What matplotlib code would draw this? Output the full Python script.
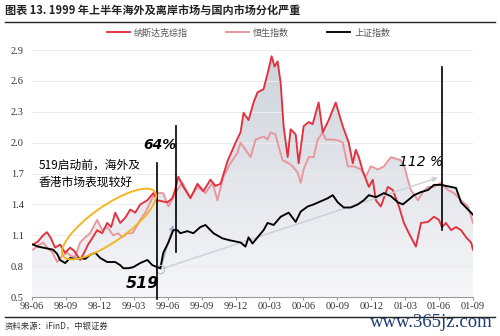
import numpy as np
import matplotlib.pyplot as plt
from matplotlib.patches import Ellipse, Polygon
from matplotlib.colors import LinearSegmentedColormap

plt.rcParams['font.family'] = ['Noto Sans CJK SC', 'DejaVu Sans']

# time axis: months counted from 1998-06
nasdaq_t = [0.09, 0.53, 0.98, 1.33, 1.68, 2.04, 2.48, 2.93, 3.37, 3.72, 4.26, 4.61, 4.96, 5.32,
            5.76, 6.21, 6.65, 7.00, 7.36, 7.80, 8.24, 8.69, 9.13, 9.57, 10.20, 10.73, 11.08,
            11.52, 11.97, 12.41, 12.68, 12.94, 13.39, 14.01, 14.63, 15.16, 15.78, 16.22, 16.67,
            17.29, 18.00, 18.44, 18.71, 19.15, 19.59, 19.95, 20.48, 20.92, 21.19, 21.45, 21.72,
            21.99, 22.25, 22.61, 22.87, 23.32, 23.58, 24.02, 24.47, 24.82, 25.35, 25.71, 26.24,
            26.86, 27.48, 28.01, 28.37, 28.63, 28.90, 29.26, 29.79, 30.14, 30.41, 30.85, 31.47,
            31.91, 32.45, 32.89, 33.33, 33.95, 34.40, 35.02, 35.55, 35.99, 36.26, 36.61, 37.06,
            37.50, 37.94, 38.39, 38.83, 39.0]
nasdaq_v = [1.01, 1.04, 1.10, 1.13, 1.07, 0.98, 1.01, 0.93, 0.98, 0.95, 0.86, 0.93, 1.01, 1.07,
            1.15, 1.12, 1.22, 1.18, 1.32, 1.22, 1.27, 1.35, 1.32, 1.40, 1.44, 1.51, 1.44,
            1.43, 1.42, 1.46, 1.55, 1.67, 1.57, 1.46, 1.60, 1.53, 1.64, 1.58, 1.60,
            1.82, 2.00, 2.10, 2.29, 2.22, 2.39, 2.49, 2.52, 2.71, 2.84, 2.74, 2.79,
            2.58, 2.16, 1.86, 2.13, 2.08, 1.80, 2.16, 2.20, 2.18, 2.39, 2.10, 2.22,
            2.39, 2.16, 2.00, 1.80, 1.93, 1.86, 1.72, 1.57, 1.64, 1.44, 1.38, 1.57,
            1.54, 1.38, 1.22, 1.12, 0.99, 1.22, 1.23, 1.28, 1.25, 1.18, 1.22, 1.15,
            1.18, 1.15, 1.08, 1.03, 0.96]

hsi_t = [0.09, 0.53, 0.98, 1.42, 1.77, 2.22, 2.66, 3.10, 3.46, 3.81, 4.26, 4.70, 5.14, 5.76,
         6.21, 6.65, 7.18, 7.62, 7.98, 8.42, 8.87, 9.22, 9.57, 10.02, 10.46, 10.73, 11.08,
         11.61, 12.06, 12.41, 12.85, 13.30, 13.74, 14.01, 14.63, 15.34, 15.96, 16.40, 16.93,
         17.55, 18.17, 18.44, 18.88, 19.33, 19.77, 20.48, 20.83, 21.10, 21.54, 21.72, 22.16,
         22.70, 23.05, 23.49, 23.76, 24.02, 24.47, 24.91, 25.27, 25.71, 25.98, 26.68, 27.13,
         27.48, 27.93, 28.46, 29.08, 29.52, 29.96, 30.59, 31.12, 31.74, 32.62, 32.98, 33.24,
         33.51, 34.13, 34.57, 35.02, 35.55, 36.17, 36.79, 37.32, 37.94, 38.56, 39.0]
hsi_v = [0.96, 1.00, 1.03, 0.97, 0.94, 0.84, 0.90, 0.93, 0.90, 0.89, 1.03, 1.08, 1.12, 1.25,
         1.15, 1.18, 1.10, 1.12, 1.08, 1.12, 1.12, 1.18, 1.25, 1.32, 1.42, 1.48, 1.51,
         1.51, 1.38, 1.45, 1.54, 1.61, 1.52, 1.47, 1.57, 1.51, 1.61, 1.44, 1.67,
         1.80, 1.90, 2.00, 1.93, 1.86, 2.03, 2.06, 2.03, 2.10, 2.08, 2.00, 1.83,
         1.80, 1.77, 1.71, 1.61, 1.74, 1.86, 1.86, 2.03, 2.10, 2.03, 2.03, 2.02,
         2.00, 1.77, 1.77, 1.74, 1.67, 1.77, 1.74, 1.77, 1.86, 1.83, 1.75, 1.64,
         1.54, 1.44, 1.52, 1.57, 1.57, 1.61, 1.54, 1.51, 1.44, 1.38, 1.22]

sh_t = [0.09, 0.53, 0.98, 1.42, 1.86, 2.22, 2.48, 2.93, 3.37, 3.81, 4.26, 4.70, 5.14, 5.59,
        6.03, 6.65, 7.36, 7.80, 8.07, 8.51, 8.95, 9.57, 10.20, 10.64, 11.08, 11.35, 11.61,
        12.06, 12.50, 12.85, 13.12, 13.74, 14.27, 14.89, 15.34, 15.78, 16.05, 16.84, 17.55,
        18.44, 18.88, 19.15, 19.50, 19.95, 20.48, 20.83, 21.37, 21.99, 22.70, 23.32, 23.76,
        24.38, 24.91, 25.53, 26.15, 26.60, 27.04, 27.57, 28.19, 28.81, 29.34, 29.79, 30.41,
        31.12, 31.74, 32.36, 32.80, 33.24, 33.78, 34.40, 35.02, 35.55, 36.17, 37.06, 37.50,
        37.94, 38.56, 39.0]
sh_v = [1.01, 0.99, 0.98, 0.97, 0.96, 0.92, 0.86, 0.83, 0.88, 0.87, 0.88, 0.87, 0.91, 0.93,
        0.88, 0.84, 0.84, 0.81, 0.78, 0.78, 0.79, 0.83, 0.86, 0.81, 0.79, 0.78, 0.93,
        1.03, 1.15, 1.15, 1.12, 1.14, 1.12, 1.18, 1.20, 1.15, 1.12, 1.07, 1.05,
        1.03, 0.99, 1.08, 1.02, 1.08, 1.15, 1.22, 1.20, 1.28, 1.32, 1.23, 1.33,
        1.38, 1.40, 1.43, 1.46, 1.49, 1.42, 1.37, 1.37, 1.40, 1.44, 1.49, 1.47,
        1.51, 1.48, 1.42, 1.40, 1.44, 1.49, 1.52, 1.54, 1.59, 1.59, 1.57, 1.56,
        1.42, 1.35, 1.30]

xticks = list(range(0, 40, 3))
xtick_labels = ['98-06', '98-09', '98-12', '99-03', '99-06', '99-09', '99-12',
                '00-03', '00-06', '00-09', '00-12', '01-03', '01-06', '01-09']
yticks = [0.5, 0.8, 1.1, 1.4, 1.7, 2.0, 2.3, 2.6, 2.9]

# key dates (months from 1998-06) and levels for the annotations
t_519, t_64, t_112 = 11.08, 12.77, 36.26
base_pt = (11.35, 0.77)
short_arrow_end = (12.5, 1.20)
long_arrow_end = (35.9, 1.66)

RED = '#e3303c'
PINK = '#e9959c'

fig = plt.figure(figsize=(5, 3.36), dpi=100)
ax = fig.add_axes([0.064, 0.116, 0.882, 0.735])
ax.set_xlim(0, 39)
ax.set_ylim(0.5, 2.9)

# gradient area under the upper envelope of the three lines
grid = np.linspace(0, 39, 800)
env = np.max([np.interp(grid, nasdaq_t, nasdaq_v),
              np.interp(grid, hsi_t, hsi_v),
              np.interp(grid, sh_t, sh_v)], axis=0)
cmap = LinearSegmentedColormap.from_list('g', ['#f7f7f9', '#cdd2db'])
grad = np.linspace(0, 1, 256).reshape(-1, 1)
img = ax.imshow(grad, extent=[0, 39, 0.5, 2.9], origin='lower', aspect='auto',
                cmap=cmap, zorder=0)
poly = Polygon(np.column_stack([np.r_[grid, 39, 0], np.r_[env, 0.5, 0.5]]),
               closed=True, transform=ax.transData, facecolor='none', edgecolor='none')
ax.add_patch(poly)
img.set_clip_path(poly)

for y in yticks[1:]:
    ax.axhline(y, color='#ececec', lw=0.7, zorder=0.5)

ax.plot(hsi_t, hsi_v, color=PINK, lw=1.35, zorder=2, label='恒生指数')
ax.plot(nasdaq_t, nasdaq_v, color=RED, lw=1.35, zorder=3, label='纳斯达克综指')
ax.plot(sh_t, sh_v, color='black', lw=1.35, zorder=4, label='上证指数')

# arrows from the 519 low
ax.annotate('', xy=long_arrow_end, xytext=base_pt,
            arrowprops=dict(arrowstyle='-|>', color='#cdd1d8', lw=1.1,
                            mutation_scale=7, shrinkA=0, shrinkB=0), zorder=3.5)
ax.annotate('', xy=short_arrow_end, xytext=base_pt,
            arrowprops=dict(arrowstyle='-|>', color='#a5b2c6', lw=1.1,
                            mutation_scale=7, shrinkA=0, shrinkB=0), zorder=3.5)
ax.plot(*base_pt, 'o', ms=6, mfc='none', mec='#b8bcc4', mew=0.8, zorder=5)

# event verticals
ax.plot([t_519, t_519], [0.48, 1.80], color='black', lw=1.2, zorder=6, clip_on=False)
ax.plot([t_64, t_64], [0.94, 2.16], color='black', lw=1.2, zorder=6)
ax.plot([t_112, t_112], [1.15, 2.74], color='black', lw=1.2, zorder=6)

ax.text(9.8, 0.63, '519', fontsize=11.5, fontstyle='italic', fontweight='bold',
        family='DejaVu Sans', ha='center', va='center', zorder=7)
ax.text(11.35, 1.98, '64%', fontsize=10, fontstyle='italic', fontweight='bold',
        family='DejaVu Sans', ha='center', va='center', zorder=7)
ax.text(34.4, 1.81, '112 %', fontsize=10, fontstyle='italic',
        family='DejaVu Sans', ha='center', va='center', zorder=7)
ax.text(0.6, 1.84, '519启动前，海外及\n香港市场表现较好', fontsize=8.5,
        ha='left', va='top', linespacing=1.35, zorder=7)

ell = Ellipse((1.09, 1.12), 1.12, 0.36, angle=35, transform=fig.dpi_scale_trans,
              facecolor='none', edgecolor='#f2b623', lw=1.4, zorder=8)
fig.patches.append(ell)

# axes styling
for s in ['top', 'right', 'left']:
    ax.spines[s].set_visible(False)
ax.spines['bottom'].set_color('#9a9a9a')
ax.spines['bottom'].set_linewidth(0.8)
ax.set_xticks(xticks)
ax.set_xticklabels(xtick_labels, family='Liberation Serif', fontsize=7.5, color='#333333')
ax.set_yticks(yticks)
ax.set_yticklabels([f'{v:.1f}' for v in yticks], family='Liberation Serif',
                   fontsize=7.5, color='#333333')
ax.tick_params(axis='y', length=0, pad=6)
ax.tick_params(axis='x', length=2.5, color='#9a9a9a', pad=1)

handles, labels = ax.get_legend_handles_labels()
order = [1, 0, 2]
fig.legend([handles[i] for i in order], [labels[i] for i in order],
           loc='center', bbox_to_anchor=(0.497, 0.902), ncol=3, frameon=False,
           fontsize=6.5, handlelength=2.6, columnspacing=4.2, handletextpad=0.4,
           labelcolor='#555555')

# header / footer
fig.text(0.01, 0.97, '图表 13. 1999 年上半年海外及离岸市场与国内市场分化严重',
         fontsize=8, fontweight='bold', color='#222222', ha='left', va='center')
fig.add_artist(plt.Line2D([0.01, 0.99], [0.936, 0.936], color='#222222', lw=1.0))
fig.add_artist(plt.Line2D([0.01, 0.99], [0.057, 0.057], color='#222222', lw=1.0))
fig.text(0.01, 0.028, '资料来源：iFinD，中银证券', fontsize=6, fontstyle='italic',
         color='#333333', ha='left', va='center')
fig.text(0.985, 0.04, 'www.365jz.com', fontsize=13.5, family='Liberation Serif',
         color='#1f3c78', ha='right', va='center')

fig.savefig('out.png', dpi=100)
